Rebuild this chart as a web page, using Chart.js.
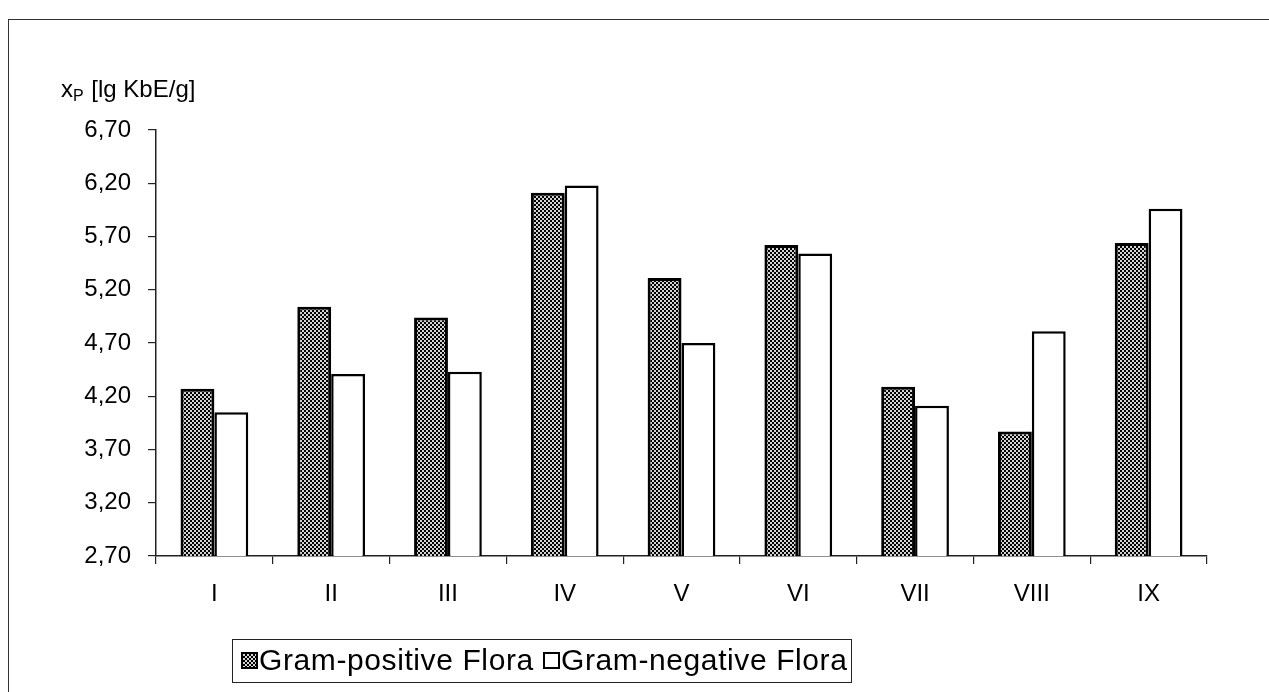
<!DOCTYPE html>
<html>
<head>
<meta charset="utf-8">
<script src="https://cdn.jsdelivr.net/npm/chart.js@4"></script>
<style>
    html, body { margin: 0; padding: 0; background: #fff; }
    #wrap { position: relative; width: 1269px; height: 692px; overflow: hidden; }
    #frame {
        position: absolute; left: 8px; top: 19px; width: 1300px; height: 700px;
        border-left: 1.5px solid #333; border-top: 1.5px solid #333;
    }
    canvas { position: absolute; left: 0; top: 0; }
    #legende {
        position: absolute; left: 232px; top: 639px; width: 620px; height: 44px;
        border: 1.5px solid #222; box-sizing: border-box;
        font-family: "Liberation Sans", Arial, sans-serif; font-size: 30px; color: #000;
    }
    .caixa {
        position: absolute; top: 12px; width: 17px; height: 17px;
        border: 2px solid #000; box-sizing: border-box;
    }
    .texto {
        position: absolute; top: 5px; line-height: 30px; letter-spacing: 0.6px; white-space: nowrap;
    }
</style>
</head>
<body>
<div id="wrap">
    <div id="frame"></div>
    <canvas id="grafico" width="1269" height="692"></canvas>
    <div id="legende">
        <span class="caixa" id="caixa-pos" style="left:8px"></span>
        <span class="texto" id="texto-pos" style="left:26px"></span>
        <span class="caixa" id="caixa-neg" style="left:310px;background:#fff"></span>
        <span class="texto" id="texto-neg" style="left:328px"></span>
    </div>
</div>
<script>
const kategorien = ['I', 'II', 'III', 'IV', 'V', 'VI', 'VII', 'VIII', 'IX'];
const gramPositiv = [4.27, 5.04, 4.94, 6.11, 5.31, 5.62, 4.29, 3.87, 5.64];
const gramNegativ = [4.05, 4.41, 4.43, 6.18, 4.70, 5.54, 4.11, 4.81, 5.96];
const serienNamen = ['Gram-positive Flora', 'Gram-negative Flora'];
const yMin = 2.7, yMax = 6.7, yStep = 0.5;

const schrift = '"Liberation Sans", Arial, sans-serif';

// checkered fill for the gram-positive bars
function makePattern() {
    const c = document.createElement('canvas');
    c.width = 4; c.height = 4;
    const g = c.getContext('2d');
    g.fillStyle = '#000';
    g.fillRect(0, 0, 4, 4);
    g.fillStyle = '#d4d4d4';
    g.fillRect(0, 0, 2, 2);
    g.fillRect(2, 2, 2, 2);
    return c;
}
const tile = makePattern();
const muster = document.getElementById('grafico').getContext('2d').createPattern(tile, 'repeat');
document.getElementById('caixa-pos').style.backgroundImage = `url(${tile.toDataURL()})`;
document.getElementById('texto-pos').textContent = serienNamen[0];
document.getElementById('texto-neg').textContent = serienNamen[1];

// axis title "xP [lg KbE/g]" with subscript
const achsenTitel = {
    id: 'achsenTitel',
    afterDraw(chart) {
        const ctx = chart.ctx;
        ctx.save();
        ctx.fillStyle = '#000';
        ctx.textBaseline = 'alphabetic';
        ctx.font = `24px ${schrift}`;
        ctx.fillText('x', 61, 97);
        const wx = ctx.measureText('x').width;
        ctx.font = `16px ${schrift}`;
        ctx.fillText('P', 61 + wx, 101);
        const wp = ctx.measureText('P').width;
        ctx.font = `24px ${schrift}`;
        ctx.fillText(' [lg KbE/g]', 61 + wx + wp + 1, 97);
        ctx.restore();
    }
};

new Chart(document.getElementById('grafico'), {
    type: 'bar',
    data: {
        labels: kategorien,
        datasets: [{
            label: serienNamen[0],
            data: gramPositiv,
            backgroundColor: muster,
            borderColor: '#000',
            borderWidth: 3,
            categoryPercentage: 0.58,
            barPercentage: 1.0,
        }, {
            label: serienNamen[1],
            data: gramNegativ,
            backgroundColor: '#fff',
            borderColor: '#000',
            borderWidth: 2.5,
            categoryPercentage: 0.58,
            barPercentage: 1.0,
        }]
    },
    options: {
        responsive: false,
        animation: false,
        devicePixelRatio: 1,
        layout: { padding: { top: 130, right: 62, bottom: 75, left: 0 } },
        plugins: {
            legend: { display: false },
            tooltip: { enabled: false },
        },
        scales: {
            x: {
                afterFit: (s) => { s.height = 61; },
                grid: {
                    offset: true,
                    drawOnChartArea: false,
                    drawTicks: true,
                    tickLength: 8,
                    color: '#222',
                    lineWidth: 1.2,
                },
                border: { color: '#222', width: 1.5 },
                ticks: {
                    color: '#000',
                    font: { family: schrift, size: 24 },
                    padding: 16,
                    maxRotation: 0,
                },
            },
            y: {
                min: yMin,
                max: yMax,
                afterFit: (s) => { s.width = 156; },
                grid: {
                    drawOnChartArea: false,
                    drawTicks: true,
                    tickLength: 8,
                    color: '#222',
                    lineWidth: 1.2,
                },
                border: { color: '#222', width: 1.5 },
                ticks: {
                    stepSize: yStep,
                    color: '#000',
                    font: { family: schrift, size: 24 },
                    padding: 17,
                    callback: (v) => Number(v).toFixed(2).replace('.', ','),
                },
            }
        }
    },
    plugins: [achsenTitel]
});
</script>
</body>
</html>
